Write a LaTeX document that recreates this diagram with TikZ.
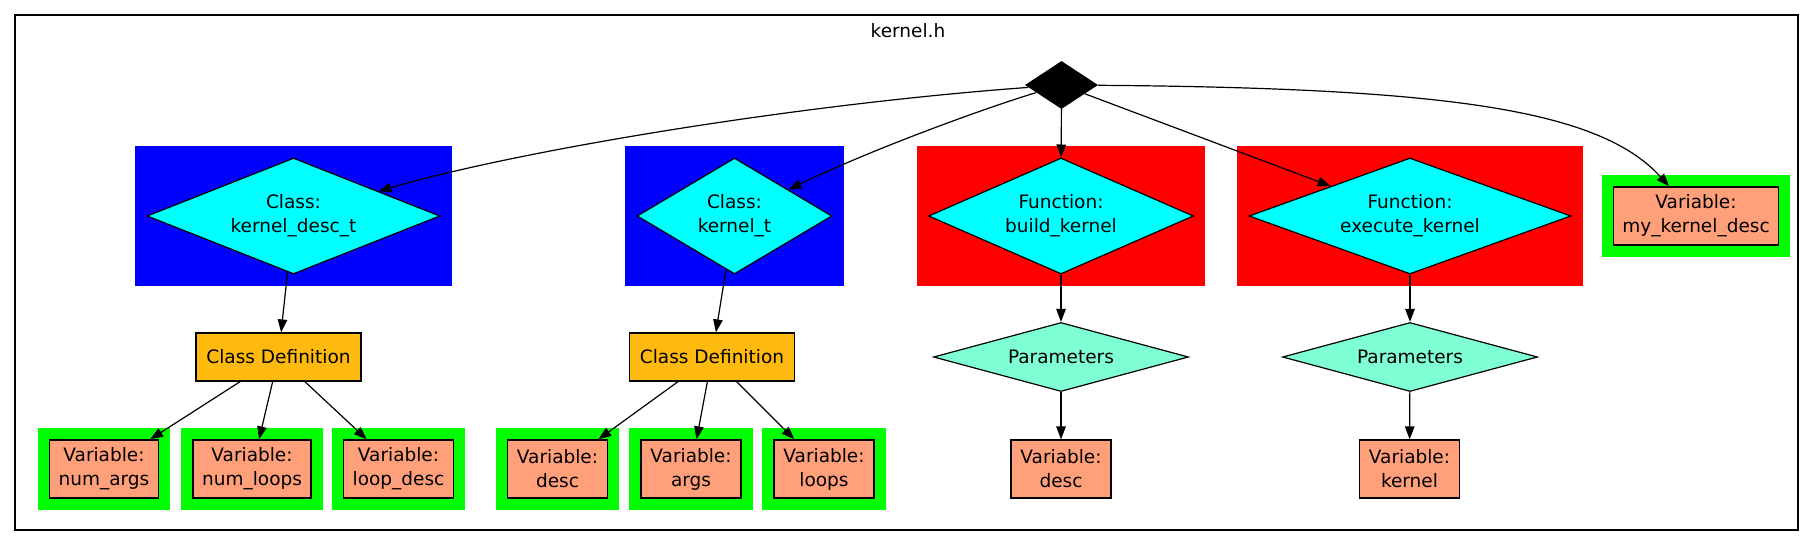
\documentclass[tikz,border=0pt]{standalone}
\usepackage{fontspec}
\setmainfont{DejaVu Sans}
\usetikzlibrary{shapes.geometric,arrows.meta,fit,backgrounds}
\definecolor{clblue}{RGB}{0,0,255}
\definecolor{clred}{RGB}{255,0,0}
\definecolor{clgreen}{RGB}{0,255,0}
\definecolor{entcyan}{RGB}{0,255,255}
\definecolor{parteal}{RGB}{127,255,212}
\definecolor{defgold}{RGB}{255,185,15}
\definecolor{varsalmon}{RGB}{255,160,122}
\begin{document}
\begin{tikzpicture}[x=1pt,y=-1pt,
 every node/.style={font=\fontsize{18.5}{24}\selectfont, inner sep=0pt},
 edge/.style={line width=1.2pt, -{Triangle[length=13pt,width=9.5pt]}},
 rootdiam/.style={diamond, fill=black, minimum width=73pt, minimum height=48pt},
 entdiam/.style={diamond, aspect=2.5, draw, line width=1.2pt, fill=entcyan, align=center, minimum height=116pt},
 pardiam/.style={diamond, aspect=3.7, draw, line width=1.2pt, fill=parteal, minimum width=255pt, minimum height=69pt},
 classdef/.style={rectangle, draw, line width=1.2pt, fill=defgold, minimum width=165pt, minimum height=48pt},
 varbox/.style={rectangle, draw, line width=1.2pt, fill=varsalmon, align=center, inner xsep=9pt, minimum width=100pt, minimum height=58pt},
 cluster/.style={fill=#1, inner sep=11pt}]
 \useasboundingbox (0,0) rectangle (1816,547);
 \draw[line width=1.2pt] (15,15) rectangle (1798,530);
 \node (title) at (908,31) {kernel.h};

 \node[rootdiam] (root) at (1061.5,85) {};
 \node[entdiam, minimum width=293pt] (kdesct) at (293.5,216) {Class:\\kernel\_desc\_t};
 \node[entdiam, minimum width=195pt] (kt) at (734.5,216) {Class:\\kernel\_t};
 \node[entdiam, minimum width=265pt] (build) at (1061,216) {Function:\\build\_kernel};
 \node[entdiam, minimum width=322pt] (exec) at (1410,216) {Function:\\execute\_kernel};
 \node[varbox] (mykdesc) at (1696,216) {Variable:\\my\_kernel\_desc};

 \node[classdef] (def1) at (278.5,357) {Class Definition};
 \node[classdef] (def2) at (712,357) {Class Definition};
 \node[pardiam] (par1) at (1061,357) {Parameters};
 \node[pardiam] (par2) at (1410,357) {Parameters};

 \node[varbox] (numargs) at (104,469) {Variable:\\num\_args};
 \node[varbox] (numloops) at (252,469) {Variable:\\num\_loops};
 \node[varbox] (loopdesc) at (398.5,469) {Variable:\\loop\_desc};
 \node[varbox] (desc) at (557.5,469) {Variable:\\desc};
 \node[varbox] (args) at (691,469) {Variable:\\args};
 \node[varbox] (loops) at (824,469) {Variable:\\loops};
 \node[varbox] (bdesc) at (1061,469) {Variable:\\desc};
 \node[varbox] (ekernel) at (1409.5,469) {Variable:\\kernel};

 \begin{scope}[on background layer]
 \node[cluster=clblue, fit=(kdesct)] {};
 \node[cluster=clblue, fit=(kt)] {};
 \node[cluster=clred, fit=(build)] {};
 \node[cluster=clred, fit=(exec)] {};
 \node[cluster=clgreen, fit=(mykdesc)] {};
 \node[cluster=clgreen, fit=(numargs)] {};
 \node[cluster=clgreen, fit=(numloops)] {};
 \node[cluster=clgreen, fit=(loopdesc)] {};
 \node[cluster=clgreen, fit=(desc)] {};
 \node[cluster=clgreen, fit=(args)] {};
 \node[cluster=clgreen, fit=(loops)] {};
 \end{scope}

 \draw[edge] (root) .. controls (800,104) and (520,150) .. (kdesct);
 \draw[edge] (root) .. controls (985,108) and (870,150) .. (kt);
 \draw[edge] (root) -- (build);
 \draw[edge] (root) -- (exec);
 \draw[edge] (root) .. controls (1450,88) and (1600,110) .. (mykdesc);

 \draw[edge] (kdesct) -- (def1);
 \draw[edge] (kt) -- (def2);
 \draw[edge] (build) -- (par1);
 \draw[edge] (exec) -- (par2);

 \draw[edge] (def1) -- (numargs);
 \draw[edge] (def1) -- (numloops);
 \draw[edge] (def1) -- (loopdesc);
 \draw[edge] (def2) -- (desc);
 \draw[edge] (def2) -- (args);
 \draw[edge] (def2) -- (loops);
 \draw[edge] (par1) -- (bdesc);
 \draw[edge] (par2) -- (ekernel);
\end{tikzpicture}
\end{document}
